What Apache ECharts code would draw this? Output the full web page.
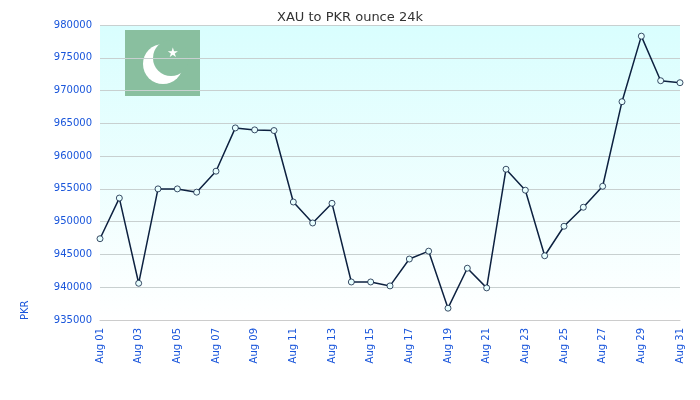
<!DOCTYPE html><html><head><meta charset="utf-8">
<script src="https://cdn.jsdelivr.net/npm/echarts@6/dist/echarts.min.js"></script>
<style>html,body{margin:0;padding:0}#c{width:700px;height:400px}</style></head><body><div id="c"></div>
<script>
const days = [];
for (let d = 1; d <= 31; d++) days.push('Aug ' + String(d).padStart(2, '0'));
const values = [947400,953600,940600,955000,955000,954500,957700,964300,964000,963900,953000,949800,952800,940800,940800,940200,944300,945500,936800,942900,939900,958000,954800,944800,949300,952200,955400,968300,978300,971500,971200];
const chart = echarts.init(document.getElementById('c'));
chart.setOption({
  animation:false,
  backgroundColor:'#fff',
  title:{text:'XAU to PKR ounce 24k',left:'center',top:6,textStyle:{fontSize:13,fontWeight:'normal',color:'#333',fontFamily:'DejaVu Sans'}},
  grid:{left:100,right:20,top:25,bottom:80,show:true,borderWidth:0,
    backgroundColor:new echarts.graphic.LinearGradient(0,0,0,1,[{offset:0,color:'#d9fefe'},{offset:1,color:'#ffffff'}])},
  xAxis:{type:'category',data:days,boundaryGap:false,
    axisLine:{lineStyle:{color:'#ccc'}},axisTick:{show:false},
    axisLabel:{interval:1,rotate:90,color:'#1a56db',fontSize:10,fontFamily:'DejaVu Sans'},
    splitLine:{show:false}},
  yAxis:{type:'value',min:935000,max:980000,interval:5000,
    axisLine:{show:false},axisTick:{show:false},
    axisLabel:{color:'#1a56db',fontSize:10,fontFamily:'DejaVu Sans',formatter:v=>String(v)},
    splitLine:{lineStyle:{color:'#c8d0d0'}}},
  series:[{type:'line',data:values,symbol:'circle',symbolSize:6,
    lineStyle:{color:'#0d2140',width:1.5},
    itemStyle:{color:'#e8ffff',borderColor:'#0d2140',borderWidth:0.8}}],
  graphic:[
    {type:'rect',shape:{x:125,y:30,width:75,height:66},style:{fill:'#89bf9f'}},
    {type:'circle',shape:{cx:163,cy:64,r:20},style:{fill:'#ffffff'}},
    {type:'circle',shape:{cx:171,cy:58,r:18},style:{fill:'#89bf9f'}},
    {type:'text',x:167,y:47,style:{text:'★',fill:'#fff',fontSize:13}},
    {type:'text',x:20,y:320,rotation:Math.PI/2,style:{text:'PKR',fill:'#1a56db',fontSize:10,fontFamily:'DejaVu Sans'}}
  ]
});
</script></body></html>
